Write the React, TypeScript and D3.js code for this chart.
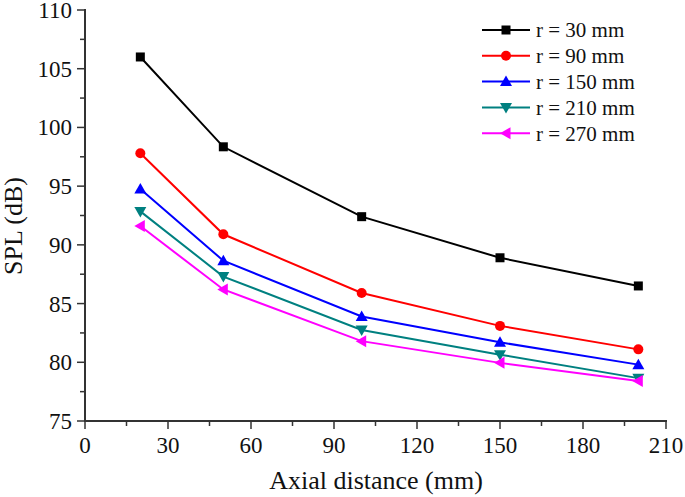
import React from "react";
import * as d3 from "d3";

const distances = [20, 50, 100, 150, 200];
const seriesNames = ["r = 30 mm", "r = 90 mm", "r = 150 mm", "r = 210 mm", "r = 270 mm"];
const r30 = [106.0, 98.35, 92.4, 88.9, 86.5];
const r90 = [97.8, 90.9, 85.9, 83.1, 81.1];
const r150 = [94.75, 88.65, 83.9, 81.7, 79.8];
const r210 = [92.85, 87.3, 82.75, 80.65, 78.65];
const r270 = [91.6, 86.2, 81.8, 79.95, 78.4];
const colors = ["#000000", "#ff0000", "#0000ff", "#008080", "#ff00ff"];
const markers = ["square", "circle", "triangleUp", "triangleDown", "triangleLeft"];
const xTicks = [0, 30, 60, 90, 120, 150, 180, 210];
const yTicks = [75, 80, 85, 90, 95, 100, 105, 110];

const allSeries = [r30, r90, r150, r210, r270];

const W = 685, H = 497;
const left = 85, right = 666, top = 10, bottom = 421;
const FONT = "'Liberation Serif', 'Times New Roman', serif";
const TXT = "#111";

function Marker({ type, x, y, color }: { type: string; x: number; y: number; color: string }) {
  if (type === "square") return <rect x={x - 4.5} y={y - 4.5} width={9} height={9} fill={color} />;
  if (type === "circle") return <circle cx={x} cy={y} r={5} fill={color} />;
  let pts: [number, number][] = [];
  if (type === "triangleUp") pts = [[x, y - 6], [x - 6, y + 4.5], [x + 6, y + 4.5]];
  if (type === "triangleDown") pts = [[x, y + 6], [x - 6, y - 4.5], [x + 6, y - 4.5]];
  if (type === "triangleLeft") pts = [[x - 6, y], [x + 4.5, y - 6], [x + 4.5, y + 6]];
  return <polygon points={pts.map((p) => p.join(",")).join(" ")} fill={color} />;
}

export default function App() {
  const x = d3.scaleLinear().domain([0, 210]).range([left, right]);
  const y = d3.scaleLinear().domain([75, 110]).range([bottom, top]);
  const line = d3.line<number>().x((_, i) => x(distances[i])).y((d) => y(d));
  const xMinor = d3.range(15, 210, 30);
  const yMinor = d3.range(77.5, 110, 5);
  const axisColor = "#333";

  return (
    <svg width={W} height={H} style={{ position: "absolute", left: 0, top: 0, background: "#fff" }}>
      {allSeries.map((vals, si) => (
        <g key={si}>
          <path d={line(vals) || ""} fill="none" stroke={colors[si]} strokeWidth={2} />
          {vals.map((v, i) => (
            <Marker key={i} type={markers[si]} x={x(distances[i])} y={y(v)} color={colors[si]} />
          ))}
        </g>
      ))}
      <line x1={left} y1={top - 1} x2={left} y2={bottom + 1} stroke={axisColor} strokeWidth={2} />
      <line x1={left - 1} y1={bottom} x2={right + 1} y2={bottom} stroke={axisColor} strokeWidth={2} />
      {yTicks.map((t) => (
        <g key={t}>
          <line x1={left - 8} x2={left} y1={y(t)} y2={y(t)} stroke={axisColor} strokeWidth={1.5} />
          <text x={left - 13} y={y(t)} dy="0.35em" textAnchor="end" fontFamily={FONT} fontSize={23} fill={TXT}>{t}</text>
        </g>
      ))}
      {yMinor.map((t) => (
        <line key={t} x1={left - 5} x2={left} y1={y(t)} y2={y(t)} stroke={axisColor} strokeWidth={1.5} />
      ))}
      {xTicks.map((t) => (
        <g key={t}>
          <line x1={x(t)} x2={x(t)} y1={bottom} y2={bottom + 8} stroke={axisColor} strokeWidth={1.5} />
          <text x={x(t)} y={bottom + 32} textAnchor="middle" fontFamily={FONT} fontSize={23} fill={TXT}>{t}</text>
        </g>
      ))}
      {xMinor.map((t) => (
        <line key={t} x1={x(t)} x2={x(t)} y1={bottom} y2={bottom + 5} stroke={axisColor} strokeWidth={1.5} />
      ))}
      <text x={376} y={489} textAnchor="middle" fontFamily={FONT} fontSize={26} fill={TXT}>Axial distance (mm)</text>
      <text transform={`translate(22,226) rotate(-90)`} textAnchor="middle" fontFamily={FONT} fontSize={26} fill={TXT}>SPL (dB)</text>
      {seriesNames.map((n, i) => {
        const ly = 30 + i * 25.8;
        return (
          <g key={n}>
            <line x1={482} x2={530} y1={ly} y2={ly} stroke={colors[i]} strokeWidth={2} />
            <Marker type={markers[i]} x={506} y={ly} color={colors[i]} />
            <text x={536} y={ly} dy="0.35em" fontFamily={FONT} fontSize={21} fill={TXT}>{n}</text>
          </g>
        );
      })}
    </svg>
  );
}
